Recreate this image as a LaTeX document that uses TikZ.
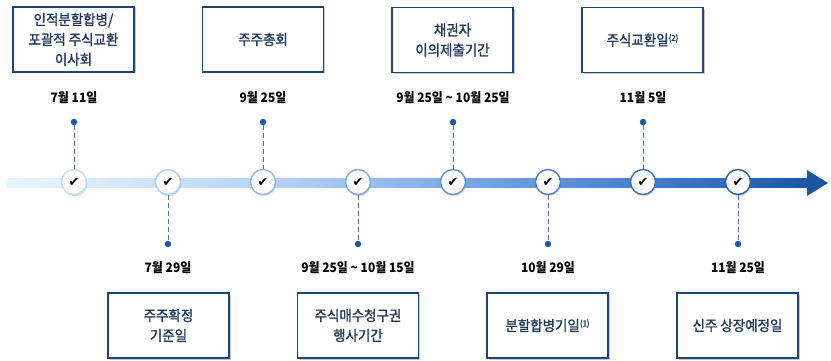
\documentclass[tikz,border=0pt]{standalone}
\usepackage{fontspec}
\setmainfont{Noto Sans CJK KR}
\newfontfamily\boxfont{Noto Sans CJK KR}[FakeBold=1.2, FakeStretch=0.93]
\newfontfamily\datefont{Noto Sans CJK KR}[FakeStretch=0.92]
\newfontfamily\chkfont{DejaVu Sans}
\usetikzlibrary{shadows}
\definecolor{boxline}{HTML}{1E4478}
\definecolor{boxtext}{HTML}{22385A}
\definecolor{dashc}{HTML}{4F6FA8}
\definecolor{dotc}{HTML}{1F59A6}
\definecolor{g0}{HTML}{EBF4FE}
\definecolor{g1}{HTML}{D6E8FC}
\definecolor{g2}{HTML}{AACCF5}
\definecolor{g3}{HTML}{6E9FE0}
\definecolor{g4}{HTML}{3A72C4}
\definecolor{g5}{HTML}{1B56A3}
\definecolor{r1}{HTML}{C4DCF4}
\definecolor{r2}{HTML}{ABCCF0}
\definecolor{r3}{HTML}{92BCEA}
\definecolor{r4}{HTML}{7AAAE2}
\definecolor{r5}{HTML}{6497D6}
\definecolor{r6}{HTML}{4E84C7}
\definecolor{r7}{HTML}{3C72B8}
\definecolor{r8}{HTML}{2C5FA3}
\newcommand{\supnum}[1]{{\fontsize{8.5}{8.5}\selectfont\raisebox{4.5pt}{#1}}}
\begin{document}
\begin{tikzpicture}[x=1pt,y=-1pt,
  evbox/.style={draw=boxline, line width=1.3pt, fill=white, minimum width=121pt,
    minimum height=65pt, align=center, text=boxtext, inner sep=2pt,
    font=\boxfont\fontsize{14.5}{20}\selectfont,
    drop shadow={shadow xshift=1.5pt, shadow yshift=-1.5pt, opacity=0.3, fill=black!70}},
  datelbl/.style={font=\datefont\fontsize{13}{15}\selectfont\bfseries, text=black},
  chk/.style={circle, minimum size=25pt, inner sep=0pt, fill=white, line width=1.4pt,
    font=\chkfont\fontsize{13}{13}\selectfont,
    drop shadow={shadow xshift=0.8pt, shadow yshift=-1.8pt, opacity=0.25, fill=black!60}},
  dotn/.style={circle, fill=dotc, inner sep=0pt, minimum size=6.5pt},
  dline/.style={draw=dashc, dash pattern=on 4.5pt off 3.5pt, line width=0.9pt}
]
\useasboundingbox (0,0) rectangle (831,361);

% timeline (piecewise gradient)
\foreach \xa/\xb/\ca/\cb in {7/120/g0/g1, 120/310/g1/g2, 310/500/g2/g3, 500/690/g3/g4, 690/809/g4/g5} {
  \pgfmathtruncatemacro\n{(\xb-\xa)/3}
  \foreach \k in {0,...,\n} {
    \pgfmathsetmacro\p{100*\k/\n}
    \fill[color=\cb!\p!\ca] ({\xa+\k*(\xb-\xa)/\n},178) rectangle ({\xa+(\k+1)*(\xb-\xa)/\n+0.4},188);
  }
}
\fill[g5] (807,170) -- (828,183) -- (807,196) -- cycle;

% checkpoints
\node[chk, draw=r1] (c1) at (74,182) {✔};
\node[chk, draw=r2] (c2) at (168,182) {✔};
\node[chk, draw=r3] (c3) at (263,182) {✔};
\node[chk, draw=r4] (c4) at (358,182) {✔};
\node[chk, draw=r5] (c5) at (453,182) {✔};
\node[chk, draw=r6] (c6) at (548,182) {✔};
\node[chk, draw=r7] (c7) at (643,182) {✔};
\node[chk, draw=r8] (c8) at (738,182) {✔};

% top dots
\node[dotn] (d1) at (74,122) {};
\node[dotn] (d3) at (263,122) {};
\node[dotn] (d5) at (453,122) {};
\node[dotn] (d7) at (643,122) {};
% bottom dots
\node[dotn] (d2) at (168,244) {};
\node[dotn] (d4) at (358,244) {};
\node[dotn] (d6) at (548,244) {};
\node[dotn] (d8) at (738,244) {};

\draw[dline] (d1) -- (c1);
\draw[dline] (d3) -- (c3);
\draw[dline] (d5) -- (c5);
\draw[dline] (d7) -- (c7);
\draw[dline] (c2) -- (d2);
\draw[dline] (c4) -- (d4);
\draw[dline] (c6) -- (d6);
\draw[dline] (c8) -- (d8);

% dates
\node[datelbl] (t1) at (74,98) {7월 11일};
\node[datelbl] (t3) at (263,98) {9월 25일};
\node[datelbl] (t5) at (453,98) {9월 25일 \textasciitilde{} 10월 25일};
\node[datelbl] (t7) at (643,98) {11월 5일};
\node[datelbl] (t2) at (168,268) {7월 29일};
\node[datelbl] (t4) at (358,268) {9월 25일 \textasciitilde{} 10월 15일};
\node[datelbl] (t6) at (548,268) {10월 29일};
\node[datelbl] (t8) at (738,268) {11월 25일};

% boxes
\node[evbox] (b1) at (73.5,39.5) {인적분할합병/\\포괄적 주식교환\\이사회};
\node[evbox] (b3) at (263,39.5) {주주총회};
\node[evbox] (b5) at (452.5,40) {채권자\\이의제출기간};
\node[evbox] (b7) at (642.5,40) {주식교환일\supnum{(2)}};
\node[evbox] (b2) at (168.5,325.5) {주주확정\\기준일};
\node[evbox] (b4) at (358,325.5) {주식매수청구권\\행사기간};
\node[evbox] (b6) at (547.5,325.5) {분할합병기일\supnum{(1)}};
\node[evbox] (b8) at (737.5,325.5) {신주 상장예정일};
\end{tikzpicture}
\end{document}
